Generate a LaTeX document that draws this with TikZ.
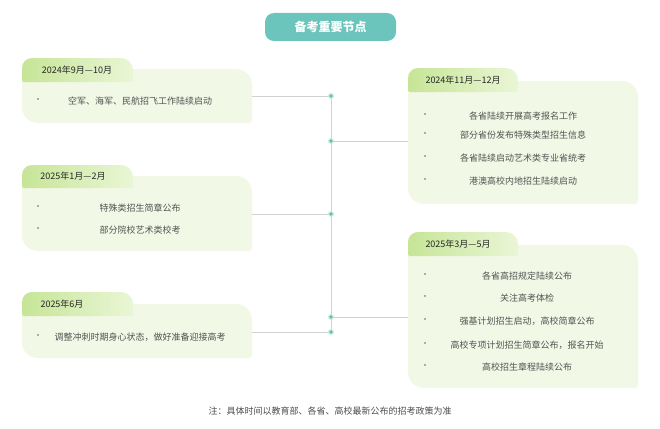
\documentclass[tikz,border=0pt]{standalone}
\usepackage{fontspec}
\setmainfont{Noto Sans CJK SC}
\begin{document}
\begin{tikzpicture}[x=1pt,y=-1pt,
 tabtxt/.style={font=\fontsize{9}{11}\selectfont,text=black!85},
 item/.style={font=\fontsize{9}{11}\selectfont,text=black!68},
 bul/.style={font=\fontsize{8}{10}\selectfont,text=black!60},
 conn/.style={draw=black!18,line width=1pt},
 dot/.style={circle,fill=dotc,draw=dotc!35,line width=1.2pt,inner sep=1.6pt}]
\definecolor{bodyc}{HTML}{F2F8E6}
\definecolor{tabL}{HTML}{C6E597}
\definecolor{tabR}{HTML}{EAF6D6}
\definecolor{dotc}{HTML}{5DBFA2}
\definecolor{titlec}{HTML}{6CC5BC}
\useasboundingbox (0,0) rectangle (660,428);
\fill[white] (0,0) rectangle (660,428);
% title
\node[fill=titlec,rounded corners=9pt,minimum width=131pt,minimum height=28pt,text=white,font=\fontsize{12}{14}\selectfont\bfseries] (title) at (330.5,27) {备考重要节点};
% spine
\coordinate (top) at (331,96);
\coordinate (bot) at (331,332);
\draw[conn] (top) -- (bot);
\newcommand{\bodybox}[4]{%
 \fill[bodyc] (#1,#2+3) [rounded corners=3pt] -- (#1,#2) [rounded corners=16pt]-- (#3,#2) [rounded corners=3pt]-- (#3,#4) [rounded corners=16pt]-- (#1,#4) -- cycle;}
\newcommand{\tabbox}[4]{%
 \shade[left color=tabL,right color=tabR] (#1,#4) [rounded corners=10pt]-- (#1,#2) [rounded corners=12pt]-- (#3,#2) [rounded corners=2pt]-- (#3,#4) -- cycle;}
% left 1
\bodybox{22}{69}{252}{123}
\tabbox{22}{58}{133}{82}
\node[tabtxt] (l1t) at (77,70) {2024年9月—10月};
\node[bul] (l1b) at (38,101) {•};
\node[item] (l1i) at (140,101) {空军、海军、民航招飞工作陆续启动};
\coordinate (l1e) at (252,96);
% left 2
\bodybox{22}{176}{252}{251}
\tabbox{22}{165}{133}{188}
\node[tabtxt] (l2t) at (73,176) {2025年1月—2月};
\node[bul] (l2b1) at (38,208) {•};
\node[item] (l2i1) at (140,208) {特殊类招生简章公布};
\node[bul] (l2b2) at (38,230) {•};
\node[item] (l2i2) at (140,230) {部分院校艺术类校考};
\coordinate (l2e) at (252,214);
% left 3
\bodybox{22}{304}{252}{358}
\tabbox{22}{292}{133}{316}
\node[tabtxt] (l3t) at (62,304) {2025年6月};
\node[bul] (l3b) at (38,337) {•};
\node[item] (l3i) at (140,337) {调整冲刺时期身心状态，做好准备迎接高考};
\coordinate (l3e) at (252,332);
% right 1
\bodybox{408}{81}{638}{204}
\tabbox{408}{68}{518}{92}
\node[tabtxt] (r1t) at (463,80) {2024年11月—12月};
\foreach \y/\t [count=\i] in {116/各省陆续开展高考报名工作,135/部分省份发布特殊类型招生信息,158/各省陆续启动艺术类专业省统考,181/港澳高校内地招生陆续启动}{
 \node[bul] (r1b\i) at (425,\y) {•};
 \node[item] (r1i\i) at (523,\y) {\t};}
\coordinate (r1e) at (408,141);
% right 2
\bodybox{408}{245}{638}{388}
\tabbox{408}{232}{518}{256}
\node[tabtxt] (r2t) at (458,244) {2025年3月—5月};
\foreach \y/\t [count=\i] in {276/各省高招规定陆续公布,298/关注高考体检,321/强基计划招生启动，高校简章公布,345/高校专项计划招生简章公布，报名开始,367/高校招生章程陆续公布}{
 \node[bul] (r2b\i) at (425,\y) {•};
 \node[item] (r2i\i) at (527,\y) {\t};}
\coordinate (r2e) at (408,317);
% connectors then dots
\coordinate (c1) at (331,96);
\coordinate (c2) at (331,141);
\coordinate (c3) at (331,214);
\coordinate (c4) at (331,317);
\coordinate (c5) at (331,332);
\draw[conn] (l1e) -- (c1);
\draw[conn] (c2) -- (r1e);
\draw[conn] (l2e) -- (c3);
\draw[conn] (c4) -- (r2e);
\draw[conn] (l3e) -- (c5);
\node[dot] (d1) at (c1) {};
\node[dot] (d2) at (c2) {};
\node[dot] (d3) at (c3) {};
\node[dot] (d4) at (c4) {};
\node[dot] (d5) at (c5) {};
% note
\node[font=\fontsize{9}{11}\selectfont,text=black!70] (note) at (330,411) {注：具体时间以教育部、各省、高校最新公布的招考政策为准};
\end{tikzpicture}
\end{document}
